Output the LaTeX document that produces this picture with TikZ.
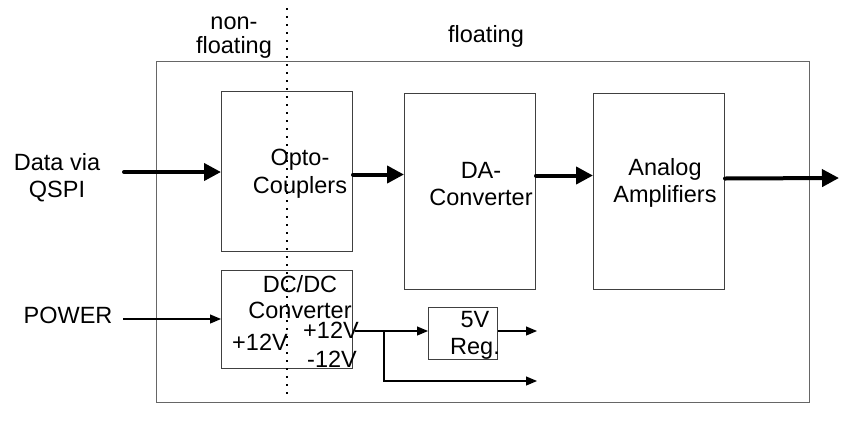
\documentclass[tikz,border=0pt]{standalone}
\usepackage{fontspec}
\setmainfont{Liberation Sans}
\usetikzlibrary{arrows.meta,positioning}

\begin{document}
\begin{tikzpicture}[x=1pt,y=-1pt,font=\fontsize{23.5}{27}\selectfont,
  blk/.style={draw=black!75,line width=1pt,anchor=north west,inner sep=0pt},
  lbl/.style={align=center,inner sep=0pt,anchor=base},
  bus/.style={-{Triangle[length=17pt,width=17pt]},line width=4pt,line cap=round},
  wire/.style={-{Triangle[length=11pt,width=9pt]},line width=1.2pt}]
\useasboundingbox (0,0) rectangle (841,429);
% outer frame and blocks
\node[blk,draw=black!60,minimum width=653pt,minimum height=341pt] (frame) at (156,61) {};
\node[blk,minimum width=131pt,minimum height=160pt] (opto) at (221,91) {};
\node[blk,minimum width=131pt,minimum height=196pt] (da) at (404,93) {};
\node[blk,minimum width=131pt,minimum height=196pt] (amp) at (593,93) {};
\node[blk,minimum width=131pt,minimum height=98pt] (dcdc) at (221,270) {};
\node[blk,minimum width=69pt,minimum height=52pt] (reg) at (428,307) {};
% isolation border
\coordinate (septop) at (287,8);
\coordinate (sepbot) at (287,398);
\draw[line width=1.6pt,dash pattern=on 2pt off 6pt] (septop) -- (sepbot);
% texts (base = last line)
\node[lbl,font=\fontsize{23.5}{24}\selectfont] (nonfl) at (234,53) {non-\\floating};
\node[lbl] (fl) at (486,42) {floating};
\node[lbl] (data) at (57,197) {Data via\\QSPI};
\node[lbl] (power) at (68,323) {POWER};
\node[lbl,font=\fontsize{23.5}{28}\selectfont] (optotxt) at (300,193) {Opto-\\Couplers};
\node[lbl] (datxt) at (481,205) {DA-\\Converter};
\node[lbl] (amptxt) at (665,202) {Analog\\Amplifiers};
\node[lbl,font=\fontsize{23.5}{26}\selectfont] (dcdctxt) at (300,318) {DC/DC\\Converter};
\node[lbl] (vin) at (260,350) {+12V};
\node[lbl] (vpos) at (331,338) {+12V};
\node[lbl] (vneg) at (332,367) {-12V};
\node[lbl] (regtxt) at (475,354) {5V\\Reg.};
% signal path
\coordinate (datain) at (124,172);
\coordinate (out) at (839,178);
\draw[bus] (datain) -- (datain -| opto.west);
\draw[bus] ([yshift=-3pt]opto.east) -- ([yshift=-3pt]opto.east -| da.west);
\draw[bus] ([yshift=16pt]da.east) -- ([yshift=16pt]da.east -| amp.west);
\draw[bus] ([yshift=13pt]amp.east) -- (out);
% supply
\coordinate (pwr) at (123,319);
\coordinate (p12) at (355,331);
\coordinate (tap) at (384,331);
\coordinate (rail) at (537,381);
\draw[wire] (pwr) -- (pwr -| dcdc.west);
\draw[wire] (p12) -- (p12 -| reg.west);
\draw[wire] (tap) |- (rail);
\draw[wire] (reg.east |- p12) -- (rail |- p12);
\end{tikzpicture}
\end{document}
